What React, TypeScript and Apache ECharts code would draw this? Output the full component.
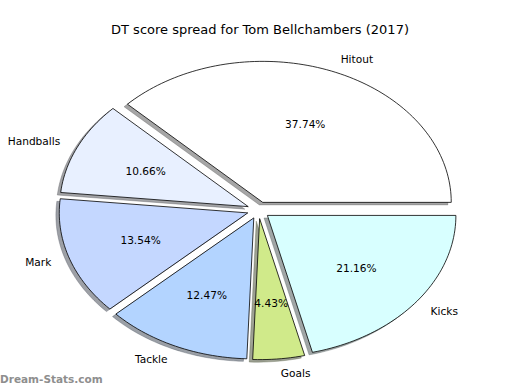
import React, { useEffect, useRef } from "react";
import * as echarts from "echarts";

const categories = ["Hitout", "Handballs", "Mark", "Tackle", "Goals", "Kicks"];
const shares = [37.74, 10.66, 13.54, 12.47, 4.43, 21.16];
const palette = ["#ffffff", "#e8f0ff", "#c4d7ff", "#b3d4ff", "#d0ea8a", "#d8ffff"];
const titleText = "DT score spread for Tom Bellchambers (2017)";
const watermark = "Dream-Stats.com";

const CX = 258.5;
const CY = 210.2;
const RX = 188.5;
const RY = 141;
const EXPLODE = 0.06;
const SHADOW = 0.018;
const FONT = "DejaVu Sans, Noto Sans, sans-serif";
const LABEL_SIZE = 10.6;

function sliceGeom(i: number) {
  const total = shares.reduce((a, b) => a + b, 0);
  let before = 0;
  for (let k = 0; k < i; k++) before += shares[k];
  const a1 = (before / total) * 2 * Math.PI;
  const a2 = ((before + shares[i]) / total) * 2 * Math.PI;
  const mid = (a1 + a2) / 2;
  const cx = CX + EXPLODE * RX * Math.cos(mid);
  const cy = CY - EXPLODE * RY * Math.sin(mid);
  return { a1, a2, mid, cx, cy, pct: (shares[i] / total) * 100 };
}

function wedgePoints(cx: number, cy: number, a1: number, a2: number) {
  const pts: number[][] = [[cx, cy]];
  const n = Math.max(4, Math.ceil(((a2 - a1) * 180) / Math.PI / 1.5));
  for (let k = 0; k <= n; k++) {
    const a = a1 + ((a2 - a1) * k) / n;
    pts.push([cx + RX * Math.cos(a), cy - RY * Math.sin(a)]);
  }
  return pts;
}

function hexShadow(hex: string) {
  const r = parseInt(hex.slice(1, 3), 16);
  const g = parseInt(hex.slice(3, 5), 16);
  const b = parseInt(hex.slice(5, 7), 16);
  return `rgba(${Math.round(r * 0.3)},${Math.round(g * 0.3)},${Math.round(b * 0.3)},0.5)`;
}

export default function App() {
  const ref = useRef<HTMLDivElement>(null);
  useEffect(() => {
    if (!ref.current) return;
    const chart = echarts.init(ref.current, undefined, { renderer: "svg" });
    const data = shares.map((v, i) => ({ name: categories[i], value: v }));
    chart.setOption({
      animation: false,
      backgroundColor: "#ffffff",
      title: {
        text: titleText,
        left: "center",
        top: 18,
        textStyle: { fontFamily: FONT, fontSize: 13, fontWeight: "normal", color: "#000" },
      },
      graphic: [
        {
          type: "text",
          left: 0,
          top: 373,
          style: { text: watermark, font: `bold 10.5px ${FONT}`, fill: "#8e8e8e" },
        },
      ],
      series: [
        {
          type: "custom",
          coordinateSystem: "none",
          z: 1,
          data,
          renderItem: (params: any, api: any) => {
            const i = params.dataIndex;
            const g = sliceGeom(i);
            const pts = wedgePoints(g.cx - SHADOW * RX, g.cy + SHADOW * RY, g.a1, g.a2);
            const c = hexShadow(palette[i]);
            return {
              type: "polygon",
              shape: { points: pts },
              style: { fill: c, stroke: c, lineWidth: 0.6 },
            };
          },
        },
        {
          type: "custom",
          coordinateSystem: "none",
          z: 2,
          data,
          renderItem: (params: any, api: any) => {
            const i = params.dataIndex;
            const g = sliceGeom(i);
            return {
              type: "polygon",
              shape: { points: wedgePoints(g.cx, g.cy, g.a1, g.a2) },
              style: { fill: palette[i], stroke: "#000", lineWidth: 0.8, lineJoin: "miter" },
            };
          },
        },
        {
          type: "custom",
          coordinateSystem: "none",
          z: 3,
          data,
          renderItem: (params: any, api: any) => {
            const i = params.dataIndex;
            const g = sliceGeom(i);
            const lx = g.cx + 1.1 * RX * Math.cos(g.mid);
            const ly = g.cy - 1.1 * RY * Math.sin(g.mid);
            const px = g.cx + 0.6 * RX * Math.cos(g.mid);
            const py = g.cy - 0.6 * RY * Math.sin(g.mid);
            return {
              type: "group",
              children: [
                {
                  type: "text",
                  x: lx,
                  y: ly,
                  style: {
                    text: categories[i],
                    font: `${LABEL_SIZE}px ${FONT}`,
                    fill: "#000",
                    align: Math.cos(g.mid) > 0 ? "left" : "right",
                    verticalAlign: "middle",
                  },
                },
                {
                  type: "text",
                  x: px,
                  y: py,
                  style: {
                    text: g.pct.toFixed(2) + "%",
                    font: `${LABEL_SIZE}px ${FONT}`,
                    fill: "#000",
                    align: "center",
                    verticalAlign: "middle",
                  },
                },
              ],
            };
          },
        },
      ],
    });
    return () => chart.dispose();
  }, []);
  return (
    <div
      ref={ref}
      style={{ position: "fixed", left: 0, top: 0, width: 520, height: 390 }}
    />
  );
}
